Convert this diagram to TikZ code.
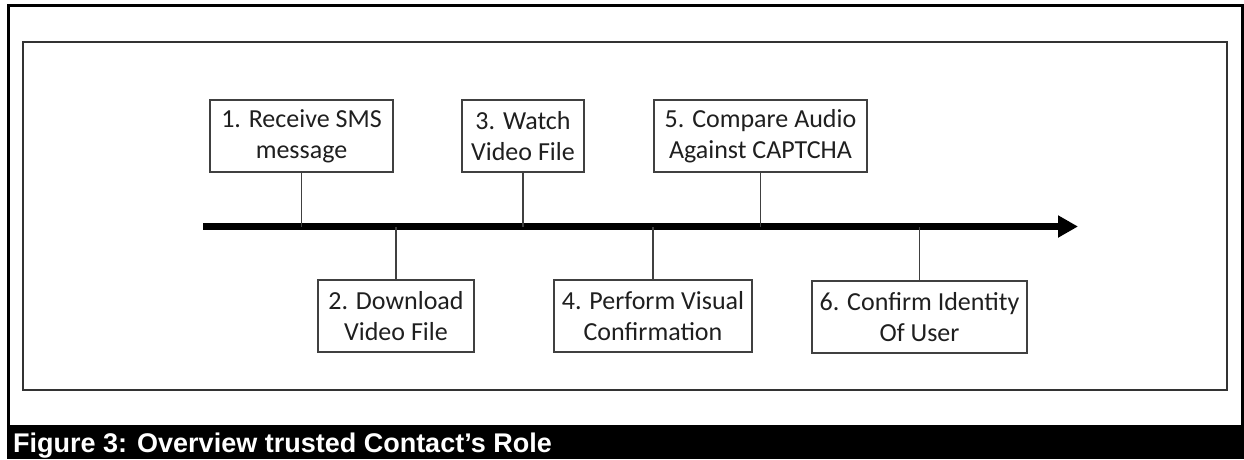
\documentclass[tikz,border=0pt]{standalone}
\usepackage{fontspec}
\usetikzlibrary{arrows.meta}
\newfontfamily\boxfont{Carlito}
\newfontfamily\capfont{Liberation Sans}
\tikzset{
  stepbox/.style={draw=black!75, line width=1.4pt, align=center, inner sep=0pt,
    text=black!88, font=\boxfont\fontsize{26}{31}\selectfont},
  conn/.style={draw=black!75, line width=1.4pt},
  timeline/.style={line width=7pt, -{Triangle[length=20pt,width=21pt]}},
}
\begin{document}
\begin{tikzpicture}[x=1pt,y=-1pt]
\useasboundingbox (0,0) rectangle (1244,459);
% frames
\draw[line width=3pt] (8.5,5.5) rectangle (1242.5,426);
\draw[draw=black!80, line width=1.8pt] (23,42) rectangle (1227,390);
\fill[black] (7,426) rectangle (1244,459);
\node[anchor=base west, inner sep=0pt, text=white,
  font=\capfont\bfseries\fontsize{27}{30}\selectfont] (cap) at (13,452.5)
  {Figure 3: Overview trusted Contact’s Role};
% timeline
\coordinate (tl) at (203,226.5);
\coordinate (tr) at (1078,226.5);
\draw[timeline] (tl) -- (tr);
% upper boxes
\node[stepbox, minimum width=183pt, minimum height=72pt] (b1) at (301.5,136) {1. Receive SMS\\message};
\node[stepbox, minimum width=122pt, minimum height=72pt] (b3) at (523,136) {3. Watch\\Video File};
\node[stepbox, minimum width=213pt, minimum height=72pt] (b5) at (760.5,136) {5. Compare Audio\\Against CAPTCHA};
% lower boxes
\node[stepbox, minimum width=156pt, minimum height=72pt] (b2) at (396,316) {2. Download\\Video File};
\node[stepbox, minimum width=198pt, minimum height=72pt] (b4) at (653,316) {4. Perform Visual\\Confirmation};
\node[stepbox, minimum width=215pt, minimum height=72pt] (b6) at (919.5,317) {6. Confirm Identity\\Of User};
% connectors
\draw[conn] (b1.south) -- (b1.south |- tl);
\draw[conn] (b3.south) -- (b3.south |- tl);
\draw[conn] (b5.south) -- (b5.south |- tl);
\draw[conn] (b2.north) -- (b2.north |- tl);
\draw[conn] (b4.north) -- (b4.north |- tl);
\draw[conn] (b6.north) -- (b6.north |- tl);
\end{tikzpicture}
\end{document}
